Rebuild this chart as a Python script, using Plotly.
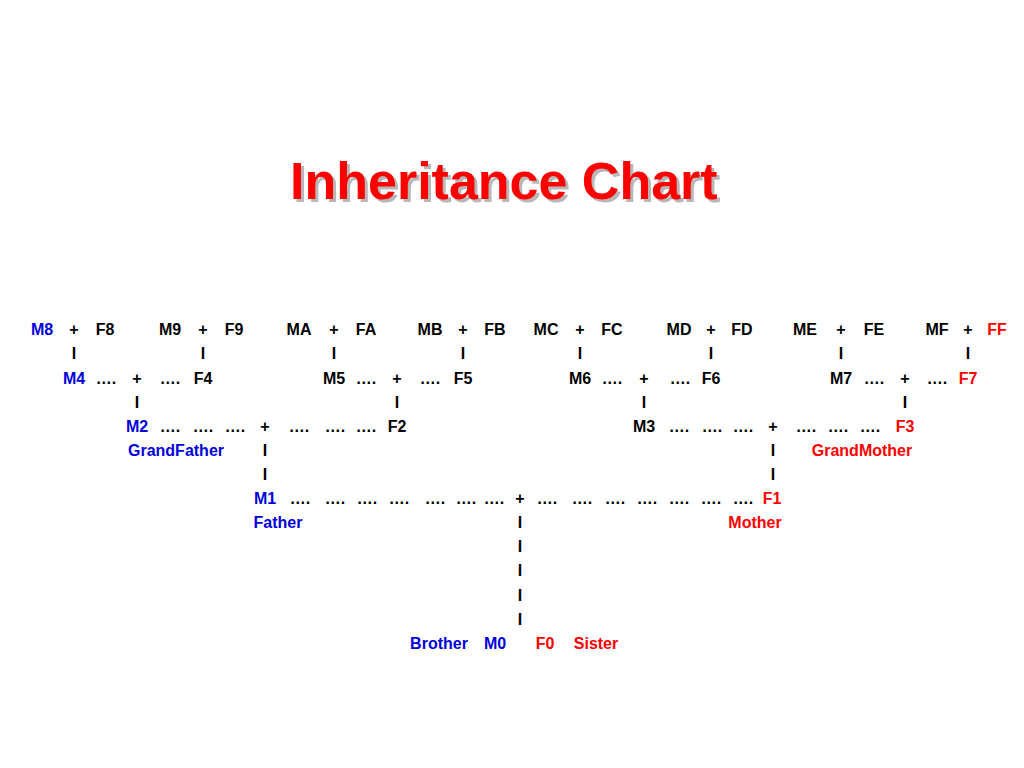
import plotly.graph_objects as go

BLUE = "#0000dd"; RED = "#ff0000"; BLACK = "#000000"

rows = [
    (329, [("M8",42,BLUE),("+",74,BLACK),("F8",105,BLACK),("M9",170,BLACK),("+",203,BLACK),("F9",234,BLACK),
           ("MA",299,BLACK),("+",334,BLACK),("FA",366,BLACK),("MB",430,BLACK),("+",463,BLACK),("FB",495,BLACK),
           ("MC",546,BLACK),("+",580,BLACK),("FC",612,BLACK),("MD",679,BLACK),("+",711,BLACK),("FD",742,BLACK),
           ("ME",805,BLACK),("+",841,BLACK),("FE",874,BLACK),("MF",937,BLACK),("+",968,BLACK),("FF",997,RED)]),
    (353, [("I",x,BLACK) for x in [74,203,334,463,580,711,841,968]]),
    (378, [("M4",74,BLUE),("….",106,BLACK),("+",137,BLACK),("….",170,BLACK),("F4",203,BLACK),
           ("M5",334,BLACK),("….",366,BLACK),("+",397,BLACK),("….",430,BLACK),("F5",463,BLACK),
           ("M6",580,BLACK),("….",612,BLACK),("+",644,BLACK),("….",680,BLACK),("F6",711,BLACK),
           ("M7",841,BLACK),("….",874,BLACK),("+",905,BLACK),("….",937,BLACK),("F7",968,RED)]),
    (402, [("I",x,BLACK) for x in [137,397,644,905]]),
    (426, [("M2",137,BLUE)]+[("….",x,BLACK) for x in [170,203,235]]+[("+",265,BLACK)]
          +[("….",x,BLACK) for x in [299,335,366]]+[("F2",397,BLACK),("M3",644,BLACK)]
          +[("….",x,BLACK) for x in [679,712,743]]+[("+",773,BLACK)]
          +[("….",x,BLACK) for x in [806,838,870]]+[("F3",905,RED)]),
    (450, [("GrandFather",176,BLUE),("I",265,BLACK),("I",773,BLACK),("GrandMother",862,RED)]),
    (474, [("I",265,BLACK),("I",773,BLACK)]),
    (498, [("M1",265,BLUE)]+[("….",x,BLACK) for x in [300,335,367,399,435,466,494]]+[("+",520,BLACK)]
          +[("….",x,BLACK) for x in [547,582,615,647,679,711,743]]+[("F1",772,RED)]),
    (522, [("Father",278,BLUE),("I",520,BLACK),("Mother",755,RED)]),
    (546, [("I",520,BLACK)]), (570, [("I",520,BLACK)]), (595, [("I",520,BLACK)]), (619, [("I",520,BLACK)]),
    (643, [("Brother",439,BLUE),("M0",495,BLUE),("F0",545,RED),("Sister",596,RED)]),
]

labels, xs, ys, cols = [], [], [], []
for y, items in rows:
    for t, x, c in items:
        labels.append(t); xs.append(x); ys.append(y); cols.append(c)

fig = go.Figure(go.Scatter(x=xs, y=ys, mode="text", text=labels,
                           textfont=dict(family="Liberation Sans", size=16, color=cols, weight="bold"),
                           hoverinfo="skip"))
title = "Inheritance Chart"
fig.add_annotation(x=507, y=182, text=title, showarrow=False,
                   font=dict(family="Liberation Sans", size=52, color="#b8b8b8", weight="bold"))
fig.add_annotation(x=504, y=179, text=title, showarrow=False,
                   font=dict(family="Liberation Sans", size=52, color=RED, weight="bold"))
fig.update_layout(width=1024, height=768, margin=dict(l=0, r=0, t=0, b=0),
                  paper_bgcolor="white", plot_bgcolor="white", showlegend=False,
                  xaxis=dict(range=[8, 1032], visible=False, fixedrange=True),
                  yaxis=dict(range=[774, 6], visible=False, fixedrange=True))
fig.write_html("out.html")
